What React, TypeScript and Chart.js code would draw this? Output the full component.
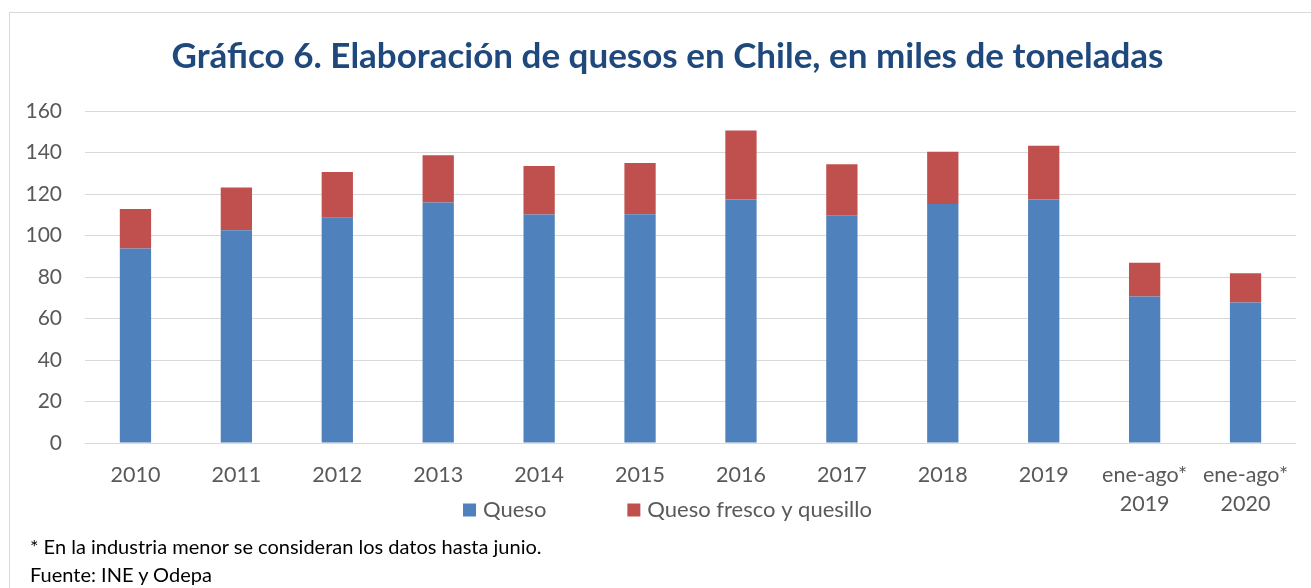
import React, { useEffect, useRef } from "react";
import { Chart, registerables } from "chart.js";

Chart.register(...registerables);

const categories: (string | string[])[] = [
  "2010", "2011", "2012", "2013", "2014", "2015", "2016", "2017", "2018", "2019",
  ["ene-ago*", "2019"], ["ene-ago*", "2020"],
];
const quesoValues = [93.7, 102.5, 108.6, 115.9, 110.1, 110.2, 117.3, 109.7, 115.2, 117.3, 70.6, 67.7];
const frescoValues = [19.1, 20.6, 22.0, 22.8, 23.4, 24.7, 33.3, 24.6, 25.2, 26.0, 16.3, 14.1];
const seriesNames = ["Queso", "Queso fresco y quesillo"];
const titleText = "Gráfico 6. Elaboración de quesos en Chile, en miles de toneladas";
const footnotes = ["* En la industria menor se consideran los datos hasta junio.", "Fuente: INE y Odepa"];
const yTicks = { min: 0, max: 160, step: 20 };

const FONT = "Lato, 'Open Sans', sans-serif";
const TITLE_CENTER = 667.5;

// Centre the title over the whole chart object (as in the reference) rather than the padded canvas.
const centerTitle = {
  id: "centerTitle",
  afterLayout(chart: any) {
    const tb = chart.titleBlock;
    if (!tb) return;
    const d = TITLE_CENTER - (tb.left + tb.right) / 2;
    tb.left += d;
    tb.right += d;
  },
};

const bottomLegend = {
  id: "bottomLegend",
  afterDraw(chart: any) {
    const ctx = chart.ctx;
    const box = 13;
    const gap = 7;
    const spacing = 81;
    ctx.save();
    ctx.font = `22px ${FONT}`;
    ctx.textBaseline = "middle";
    ctx.textAlign = "left";
    const items = chart.data.datasets.map((ds: any) => ({
      text: ds.label,
      color: ds.backgroundColor,
      w: box + gap + ctx.measureText(ds.label).width,
    }));
    const total = items.reduce((s: number, it: any) => s + it.w, 0) + spacing * (items.length - 1);
    const tb = chart.titleBlock;
    const center = tb ? (tb.left + tb.right) / 2 : chart.width / 2;
    let x = center - total / 2;
    const y = 510;
    items.forEach((it: any) => {
      ctx.fillStyle = it.color;
      ctx.fillRect(x, y - box / 2, box, box);
      ctx.fillStyle = "#595959";
      ctx.fillText(it.text, x + box + gap, y);
      x += it.w + spacing;
    });
    ctx.restore();
  },
};

export default function App() {
  const ref = useRef<HTMLCanvasElement>(null);
  useEffect(() => {
    document.body.style.margin = "0";
    if (!ref.current) return;
    const chart = new Chart(ref.current, {
      type: "bar",
      data: {
        labels: categories,
        datasets: [
          { label: seriesNames[0], data: quesoValues, backgroundColor: "#4F81BD", borderWidth: 0 },
          { label: seriesNames[1], data: frescoValues, backgroundColor: "#C0504D", borderWidth: 0 },
        ],
      },
      options: {
        responsive: false,
        animation: false,
        devicePixelRatio: 1,
        datasets: { bar: { barPercentage: 0.31, categoryPercentage: 1 } },
        layout: { padding: { left: 20, right: 15, top: 0, bottom: 65 } },
        plugins: {
          legend: { display: false },
          tooltip: { enabled: false },
          title: {
            display: true,
            text: titleText,
            color: "#1F497D",
            font: { family: FONT, size: 35, weight: "bold", lineHeight: 1.2 },
            padding: { top: 36, bottom: 33 },
          },
        },
        scales: {
          x: {
            stacked: true,
            grid: { display: false, drawTicks: false },
            border: { display: false },
            ticks: {
              color: "#595959",
              font: { family: FONT, size: 21.5, lineHeight: 1.36 },
              padding: 17,
              maxRotation: 0,
              autoSkip: false,
            },
            afterFit: (s: any) => { s.height = 80; },
          },
          y: {
            stacked: true,
            min: yTicks.min,
            max: yTicks.max,
            grid: { color: "#d9d9d9", lineWidth: 1, drawTicks: false },
            border: { display: false },
            ticks: {
              stepSize: yTicks.step,
              color: "#595959",
              font: { family: FONT, size: 21 },
              padding: 23,
            },
            afterFit: (s: any) => { s.width = 65; },
          },
        },
      },
      plugins: [centerTitle, bottomLegend],
    });
    return () => chart.destroy();
  }, []);

  return (
    <div style={{ position: "relative", width: 1311, height: 588, overflow: "hidden", background: "#fff" }}>
      <div
        style={{
          position: "absolute", left: 9, top: 12, width: 1400, height: 700,
          border: "1px solid #d9d9d9", boxSizing: "border-box",
        }}
      />
      <canvas ref={ref} width={1311} height={588} style={{ position: "absolute", left: 0, top: 0, width: 1311, height: 588 }} />
      {footnotes.map((t, i) => (
        <div
          key={i}
          style={{
            position: "absolute", left: 30, top: 534 + i * 28, fontFamily: FONT, fontSize: 20,
            lineHeight: "24px", color: "#000", whiteSpace: "nowrap",
          }}
        >
          {t}
        </div>
      ))}
    </div>
  );
}
